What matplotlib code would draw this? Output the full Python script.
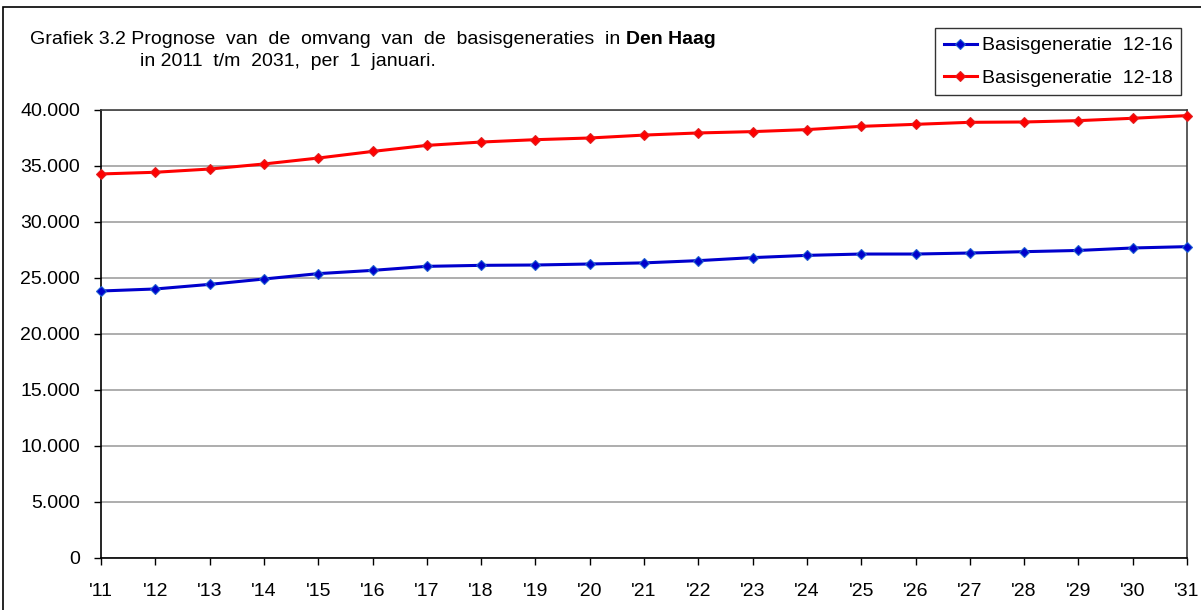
import matplotlib
matplotlib.use("Agg")
import matplotlib.pyplot as plt
from matplotlib.patches import Rectangle

plt.rcParams['font.family'] = ['Liberation Sans', 'DejaVu Sans']

years = ["'11", "'12", "'13", "'14", "'15", "'16", "'17", "'18", "'19", "'20", "'21",
         "'22", "'23", "'24", "'25", "'26", "'27", "'28", "'29", "'30", "'31"]
gen_12_16 = [23840, 24020, 24430, 24910, 25390, 25680, 26040, 26130, 26160, 26250, 26350,
             26550, 26820, 27020, 27140, 27140, 27230, 27350, 27460, 27680, 27800]
gen_12_18 = [34290, 34440, 34730, 35180, 35710, 36300, 36840, 37140, 37350, 37500, 37760,
             37950, 38070, 38250, 38540, 38720, 38900, 38930, 39050, 39260, 39500]
yticks = [0, 5000, 10000, 15000, 20000, 25000, 30000, 35000, 40000]
ytick_labels = ["0", "5.000", "10.000", "15.000", "20.000", "25.000", "30.000", "35.000", "40.000"]

W, H = 1201, 610
fig = plt.figure(figsize=(W / 100, H / 100), dpi=100)
fig.patch.set_facecolor('white')

# outer frame
fig.patches.append(Rectangle((3 / W, -0.1), 1.2, (H - 7) / H + 0.1, transform=fig.transFigure,
                             fill=False, edgecolor='black', linewidth=1.2))

ax = fig.add_axes([101 / W, (H - 558) / H, (1187 - 101) / W, (558 - 110) / H])
x = list(range(len(years)))
ax.plot(x, gen_12_16, color='#0000CC', linewidth=2.2, marker='D', markersize=5.5,
        markerfacecolor='#0000CC', markeredgecolor='#1E5FD0', markeredgewidth=0.8,
        label='Basisgeneratie  12-16', clip_on=False, zorder=3)
ax.plot(x, gen_12_18, color='#FF0000', linewidth=2.2, marker='D', markersize=5.5,
        markerfacecolor='#FF0000', markeredgecolor='#E02020', markeredgewidth=0.8,
        label='Basisgeneratie  12-18', clip_on=False, zorder=3)

ax.set_xlim(0, len(years) - 1)
ax.set_ylim(0, 40000)
ax.set_yticks(yticks)
ax.set_yticklabels(ytick_labels)
ax.set_xticks(x)
ax.set_xticklabels(years)
ax.yaxis.grid(True, color='#A0A0A0', linewidth=1.2)
ax.set_axisbelow(True)
ax.tick_params(axis='both', direction='out', length=5, width=1, color='black',
               labelsize=14, colors='black')
ax.tick_params(axis='x', pad=13)
ax.tick_params(axis='y', pad=10)
for s in ['left', 'bottom']:
    ax.spines[s].set_color('black')
    ax.spines[s].set_linewidth(1.2)
for s in ['top', 'right']:
    ax.spines[s].set_color('#404040')
    ax.spines[s].set_linewidth(1.2)

t = fig.text(30 / W, 1 - 40 / H,
             "Grafiek 3.2 Prognose  van  de  omvang  van  de  basisgeneraties  in ",
             fontsize=14, va='center', ha='left')
fig.canvas.draw()
bb = t.get_window_extent()
fig.text(bb.x1 / W, 1 - 40 / H, "Den Haag", fontsize=14, va='center', ha='left', fontweight='bold')
fig.text(140 / W, 1 - 62 / H, "in 2011  t/m  2031,  per  1  januari.", fontsize=14, va='center', ha='left')

leg = fig.legend(loc='upper left', bbox_to_anchor=(935 / W, 1 - 28 / H), frameon=True,
                 fontsize=14, handlelength=1.7, handletextpad=0.25, borderpad=0.45,
                 labelspacing=0.75, fancybox=False, borderaxespad=0)
leg.get_frame().set_edgecolor('black')
leg.get_frame().set_linewidth(1.0)
for h in leg.legend_handles:
    h.set_markersize(5)

fig.savefig('out.png', dpi=100)
